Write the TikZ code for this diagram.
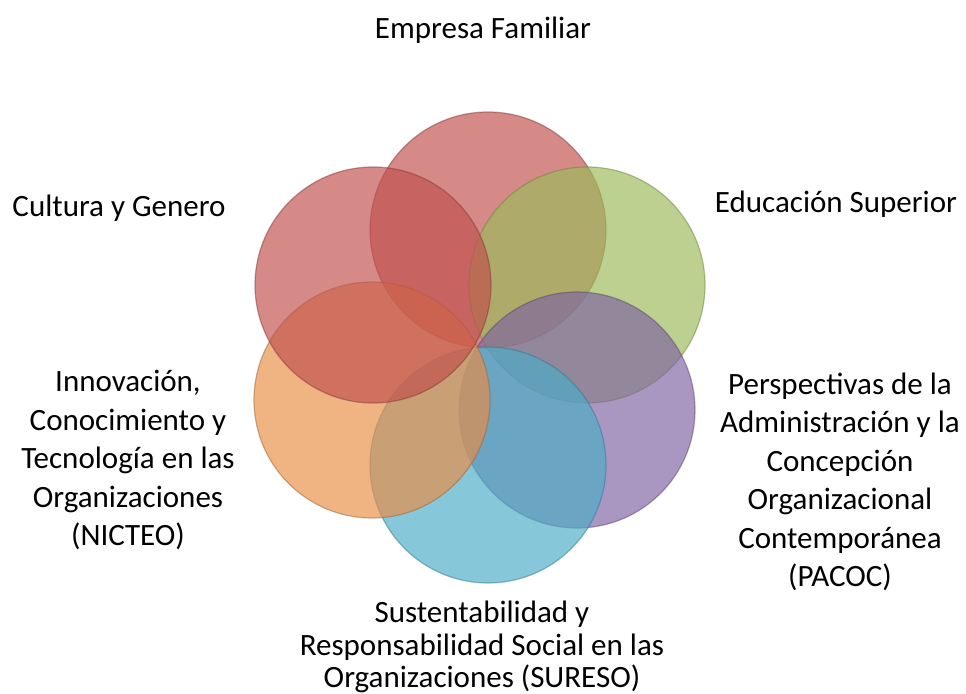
\documentclass[tikz,border=0pt]{standalone}
\usepackage{fontspec}
\setmainfont{Carlito}
\definecolor{redring}{HTML}{C0504D}
\definecolor{greenring}{HTML}{9BBB59}
\definecolor{purplering}{HTML}{8064A2}
\definecolor{bluering}{HTML}{4BACC6}
\definecolor{orangering}{HTML}{E98D45}
\begin{document}
\begin{tikzpicture}[x=0.5pt,y=-0.5pt]
    %
    % `ring' is used for the six overlapping circles.
    % `topic' is used for the research lines around them.
    \tikzstyle{ring} = [circle,minimum size=118pt,inner sep=0pt,fill opacity=0.67,draw opacity=0.5,line width=0.6pt]
    \tikzstyle{topic} = [align=center,inner sep=0pt,font=\fontsize{15.5}{19.25}\selectfont]
    \useasboundingbox (0,0) rectangle (966,694);
    %
    % Circles
    \node[ring,fill=redring,draw=redring!70!black] (empresa) at (488,230) {};
    \node[ring,fill=greenring,draw=greenring!70!black] (educacion) at (587,285) {};
    \node[ring,fill=purplering,draw=purplering!70!black] (pacoc) at (577,410) {};
    \node[ring,fill=bluering,draw=bluering!70!black] (sureso) at (488,465) {};
    \node[ring,fill=orangering,draw=orangering!70!black] (nicteo) at (372,400) {};
    \node[ring,fill=redring,draw=redring!70!black] (cultura) at (373,285) {};
    %
    % Labels
    \node[topic] (empresatxt) at (483,30) {Empresa Familiar};
    \node[topic] (educaciontxt) at (836,204) {Educación Superior};
    \node[topic] (culturatxt) at (119,208) {Cultura y Genero};
    \node[topic] (nicteotxt) at (128,460) {Innovación,\\Conocimiento y\\Tecnología en las\\Organizaciones\\(NICTEO)};
    \node[topic] (pacoctxt) at (840,482) {Perspectivas de la\\Administración y la\\Concepción\\Organizacional\\Contemporánea\\(PACOC)};
    \node[topic,font=\fontsize{15.5}{16.25}\selectfont] (suresotxt) at (482,647) {Sustentabilidad y\\Responsabilidad Social en las\\Organizaciones (SURESO)};
    %
\end{tikzpicture}
\end{document}
